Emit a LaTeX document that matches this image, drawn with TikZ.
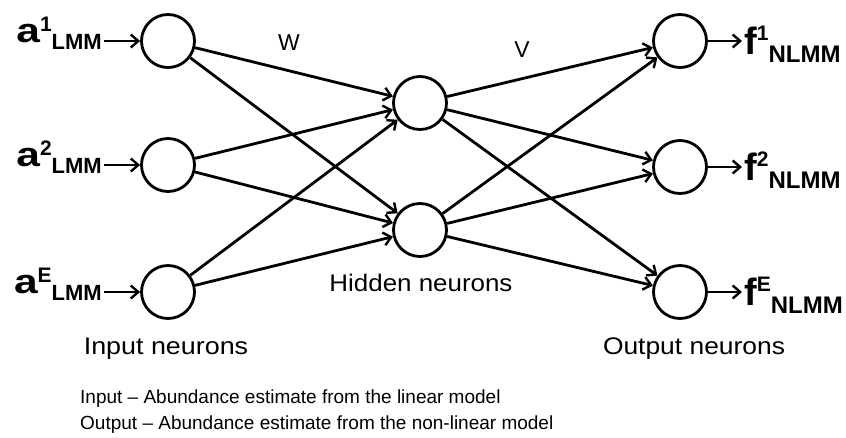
\documentclass[tikz,border=0pt]{standalone}
\usepackage{fontspec}
\setmainfont{Liberation Sans}
\usetikzlibrary{arrows.meta}
\tikzset{
  neuron/.style={circle, draw, line width=2.8pt, minimum size=53pt, inner sep=0pt},
  conn/.style={line width=2.8pt, -{Straight Barb[length=7.5pt,width=13pt,line width=2.4pt]}},
  lbl/.style={inner sep=0pt, font=\fontsize{23}{23}\selectfont},
  note/.style={inner sep=0pt, anchor=base west, font=\fontsize{19}{19}\selectfont},
}
\newcommand{\inlab}[1]{\textbf{\scalebox{1.25}[1]{\fontsize{34}{34}\selectfont a}\raisebox{11pt}{\fontsize{21}{21}\selectfont #1}\raisebox{-7pt}{\fontsize{22}{22}\selectfont LMM}}}
\newcommand{\outlab}[1]{\textbf{\raisebox{0pt}{\fontsize{38}{38}\selectfont f}\raisebox{14pt}{\fontsize{21}{21}\selectfont #1}\raisebox{-8pt}{\fontsize{24}{24}\selectfont NLMM}}}
\begin{document}
\begin{tikzpicture}[x=1pt,y=-1pt]
\useasboundingbox (0,0) rectangle (846,437);
% neurons
\node[neuron] (i1) at (168,41) {};
\node[neuron] (i2) at (168,165) {};
\node[neuron] (i3) at (168,292) {};
\node[neuron] (h1) at (420,103) {};
\node[neuron] (h2) at (420,230) {};
\node[neuron] (o1) at (680,41) {};
\node[neuron] (o2) at (680,167) {};
\node[neuron] (o3) at (680,292) {};
% input labels
\node[inner sep=0pt, anchor=base east] (la1) at (102,42) {\inlab{1}};
\node[inner sep=0pt, anchor=base east] (la2) at (102,166) {\inlab{2}};
\node[inner sep=0pt, anchor=base east] (la3) at (102,293) {\inlab{E}};
\coordinate (s1) at (104,41);
\coordinate (s2) at (104,165);
\coordinate (s3) at (104,292);
\draw[conn] (s1) -- (i1);
\draw[conn] (s2) -- (i2);
\draw[conn] (s3) -- (i3);
% output labels
\node[inner sep=0pt, anchor=base west] (lf1) at (744,54) {\outlab{1}};
\node[inner sep=0pt, anchor=base west] (lf2) at (744,180) {\outlab{2}};
\node[inner sep=0pt, anchor=base west] (lf3) at (744,305) {\outlab{E}};
\coordinate (e1) at (742,41);
\coordinate (e2) at (742,167);
\coordinate (e3) at (742,292);
\draw[conn] (o1) -- (e1);
\draw[conn] (o2) -- (e2);
\draw[conn] (o3) -- (e3);
% input -> hidden
\foreach \a in {i1,i2,i3}{\foreach \b in {h1,h2}{\draw[conn] (\a) -- (\b);}}
% hidden -> output
\foreach \a in {h1,h2}{\foreach \b in {o1,o2,o3}{\draw[conn] (\a) -- (\b);}}
% weight labels
\node[lbl] (w) at (289,43) {W};
\node[lbl] (v) at (522,50) {V};
% layer labels
\node[lbl, font=\fontsize{24}{24}\selectfont] (hn) at (421,283) {\scalebox{1.08}[1]{Hidden neurons}};
\node[lbl, font=\fontsize{24}{24}\selectfont] (inn) at (166,349) {\scalebox{1.12}[1]{Input neurons}};
\node[lbl, font=\fontsize{24}{24}\selectfont] (outn) at (694,349) {\scalebox{1.1}[1]{Output neurons}};
% notes
\node[note] (n1) at (80,403) {Input – Abundance estimate from the linear model};
\node[note] (n2) at (80,429) {Output – Abundance estimate from the non-linear model};
\end{tikzpicture}
\end{document}
